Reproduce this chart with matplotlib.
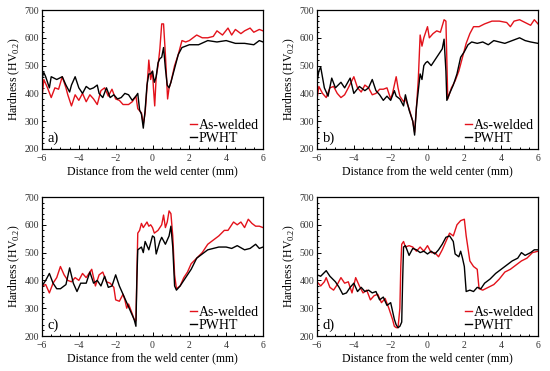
import matplotlib
matplotlib.use('Agg')
import matplotlib.pyplot as plt
from matplotlib.ticker import MultipleLocator

plt.rcParams['font.family'] = 'Liberation Serif'
plt.rcParams['mathtext.fontset'] = 'custom'
plt.rcParams['mathtext.rm'] = 'Liberation Serif'

# panel a)
a_aw_x = [-6, -5.9, -5.7, -5.5, -5.3, -5.1, -4.9, -4.7, -4.6, -4.4, -4.2, -4.0, -3.8, -3.6, -3.4, -3.2,
          -3.0, -2.8, -2.6, -2.4, -2.2, -2.0, -1.8, -1.6, -1.3, -1.1, -0.9, -0.8, -0.6, -0.5, -0.4, -0.3,
          -0.2, -0.1, 0.0, 0.05, 0.12, 0.2, 0.3, 0.4, 0.5, 0.6, 0.7, 0.82, 0.9, 1.0, 1.2, 1.4, 1.6,
          1.8, 2.0, 2.2, 2.4, 2.7, 3.0, 3.3, 3.5, 3.8, 4.1, 4.3, 4.5, 4.8, 5.0, 5.3, 5.5, 5.8, 6.0]
a_aw_y = [385, 450, 420, 385, 420, 415, 460, 420, 395, 355, 395, 375, 400, 370, 395, 380,
          360, 410, 420, 390, 415, 380, 375, 360, 360, 370, 390, 345, 330, 290, 330, 420,
          520, 450, 480, 420, 355, 460, 500, 560, 650, 650, 540, 380, 420, 440, 500, 540, 590,
          585, 590, 600, 610, 600, 600, 605, 625, 610, 635, 610, 630, 615, 625, 635, 620, 630, 625]
a_ph_x = [-6, -5.9, -5.8, -5.6, -5.5, -5.2, -4.9, -4.7, -4.5, -4.4, -4.2, -4.0, -3.8, -3.6, -3.4, -3.2,
          -3.0, -2.9, -2.7, -2.5, -2.3, -2.1, -1.9, -1.7, -1.5, -1.3, -1.1, -0.9, -0.8, -0.7, -0.6, -0.5,
          -0.4, -0.3, -0.2, -0.1, 0.0, 0.1, 0.2, 0.3, 0.4, 0.5, 0.6, 0.7, 0.8, 0.9, 1.0, 1.2, 1.4, 1.6,
          1.8, 2.0, 2.5, 3.0, 3.5, 4.0, 4.5, 5.0, 5.5, 5.8, 6.0]
a_ph_y = [455, 475, 460, 420, 460, 450, 460, 430, 405, 430, 460, 420, 400, 425, 415, 420,
          430, 400, 385, 420, 385, 395, 380, 385, 400, 395, 375, 390, 400, 340, 325, 275,
          340, 430, 470, 470, 480, 440, 460, 510, 525, 530, 565, 490, 430, 420, 440, 490, 540, 565,
          570, 575, 575, 590, 585, 590, 580, 580, 575, 590, 585]

# panel b)
b_aw_x = [-6, -5.9, -5.7, -5.5, -5.3, -5.1, -4.9, -4.7, -4.5, -4.3, -4.0, -3.8, -3.6, -3.4, -3.2, -3.0,
          -2.8, -2.6, -2.4, -2.2, -2.0, -1.9, -1.7, -1.6, -1.5, -1.3, -1.2, -1.0, -0.8, -0.7, -0.6, -0.5,
          -0.4, -0.3, -0.2, 0.0, 0.1, 0.3, 0.5, 0.7, 0.9, 1.0, 1.05, 1.1, 1.3, 1.5, 1.7, 1.9, 2.1, 2.3,
          2.5, 2.8, 3.1, 3.5, 3.9, 4.3, 4.5, 4.7, 5.0, 5.3, 5.6, 5.8, 6.0]
b_aw_y = [380, 425, 400, 385, 420, 425, 400, 385, 395, 420, 460, 420, 405, 430, 420, 395,
          400, 415, 415, 420, 380, 400, 460, 420, 390, 370, 380, 345, 300, 260, 350, 450,
          610, 570, 600, 640, 600, 615, 625, 620, 665, 660, 520, 380, 420, 445, 480, 530, 580, 615,
          640, 640, 650, 660, 660, 655, 640, 660, 665, 655, 645, 665, 650]
b_ph_x = [-6, -5.9, -5.8, -5.6, -5.4, -5.2, -5.0, -4.7, -4.5, -4.2, -4.0, -3.7, -3.4, -3.2, -3.0, -2.8,
          -2.6, -2.4, -2.2, -2.0, -1.8, -1.7, -1.5, -1.3, -1.2, -1.0, -0.8, -0.7, -0.6, -0.4, -0.3, -0.2,
          -0.1, 0.0, 0.2, 0.4, 0.6, 0.8, 0.9, 1.0, 1.05, 1.2, 1.4, 1.6, 1.8, 2.0, 2.2, 2.4, 2.7, 3.0,
          3.3, 3.6, 3.9, 4.2, 4.6, 5.0, 5.3, 5.6, 6.0]
b_ph_y = [440, 480, 495, 420, 390, 455, 420, 440, 420, 455, 400, 425, 410, 420, 450, 410,
          395, 375, 390, 375, 410, 390, 380, 355, 395, 340, 300, 250, 350, 470, 450, 500,
          510, 515, 500, 520, 540, 560, 595, 480, 375, 400, 430, 470, 530, 550, 575, 585, 580, 585,
          575, 590, 585, 580, 590, 600, 590, 585, 580]

# panel c)
c_aw_x = [-6, -5.8, -5.6, -5.4, -5.2, -5.0, -4.8, -4.6, -4.4, -4.2, -4.0, -3.8, -3.6, -3.3, -3.1, -2.9,
          -2.7, -2.5, -2.3, -2.1, -2.0, -1.8, -1.6, -1.5, -1.4, -1.3, -1.1, -1.0, -0.9, -0.8, -0.7, -0.6,
          -0.5, -0.4, -0.3, -0.2, -0.1, 0.0, 0.1, 0.3, 0.5, 0.6, 0.7, 0.8, 0.9, 1.0, 1.1, 1.2, 1.3,
          1.5, 1.7, 1.9, 2.1, 2.4, 2.7, 3.0, 3.3, 3.6, 3.9, 4.1, 4.4, 4.6, 4.8, 5.0, 5.2, 5.4, 5.6,
          5.8, 6.0]
c_aw_y = [380, 385, 355, 390, 410, 450, 420, 400, 395, 410, 400, 425, 410, 440, 380, 420,
          430, 395, 390, 375, 330, 325, 350, 330, 300, 315, 280, 260, 255, 570, 580, 605,
          590, 600, 610, 595, 600, 590, 570, 580, 600, 635, 590, 610, 650, 640, 560, 420, 370,
          380, 410, 430, 460, 480, 500, 530, 545, 560, 580, 580, 610, 600, 610, 590, 620, 605, 595,
          595, 590]
c_ph_x = [-6, -5.8, -5.6, -5.4, -5.2, -5.0, -4.7, -4.5, -4.3, -4.1, -3.9, -3.6, -3.4, -3.2, -3.0, -2.8,
          -2.6, -2.4, -2.2, -2.0, -1.8, -1.6, -1.4, -1.2, -1.0, -0.9, -0.85, -0.8, -0.6, -0.5, -0.4, -0.3,
          -0.2, 0.0, 0.1, 0.2, 0.4, 0.5, 0.7, 0.9, 1.0, 1.1, 1.2, 1.3, 1.5, 1.7, 1.9, 2.1, 2.4, 2.7,
          3.0, 3.3, 3.6, 4.0, 4.3, 4.6, 5.0, 5.3, 5.6, 5.8, 6.0]
c_ph_y = [380, 400, 425, 390, 370, 370, 385, 445, 390, 360, 390, 390, 430, 390, 400, 380,
          415, 375, 380, 420, 380, 350, 320, 290, 260, 235, 400, 510, 520, 500, 540, 525,
          510, 560, 555, 495, 540, 555, 530, 560, 595, 520, 380, 365, 380, 400, 420, 440, 480, 495,
          510, 515, 520, 520, 515, 525, 510, 515, 530, 515, 520]

# panel d)
d_aw_x = [-6, -5.8, -5.6, -5.5, -5.3, -5.1, -4.9, -4.7, -4.5, -4.3, -4.1, -3.9, -3.7, -3.5, -3.3, -3.1,
          -2.9, -2.7, -2.5, -2.3, -2.1, -1.9, -1.8, -1.7, -1.6, -1.5, -1.45, -1.4, -1.3, -1.2, -1.0, -0.8,
          -0.6, -0.4, -0.2, 0.0, 0.2, 0.4, 0.6, 0.8, 1.0, 1.2, 1.4, 1.6, 1.8, 2.0, 2.1, 2.3, 2.5,
          2.7, 2.8, 3.0, 3.3, 3.6, 3.9, 4.2, 4.5, 4.8, 5.1, 5.4, 5.7, 6.0]
d_aw_y = [395, 380, 395, 410, 375, 365, 385, 410, 390, 395, 355, 410, 380, 355, 365, 330,
          345, 350, 320, 335, 300, 260, 235, 230, 230, 300, 450, 530, 540, 520, 525, 520,
          505, 520, 505, 525, 500, 500, 485, 510, 540, 570, 560, 600, 615, 620, 560, 470, 450,
          440, 370, 365, 375, 385, 405, 430, 440, 455, 470, 480, 500, 505]
d_ph_x = [-6, -5.8, -5.5, -5.3, -5.0, -4.8, -4.6, -4.4, -4.2, -4.0, -3.8, -3.6, -3.4, -3.2, -3.0, -2.8,
          -2.6, -2.4, -2.2, -2.0, -1.9, -1.8, -1.7, -1.6, -1.5, -1.4, -1.35, -1.3, -1.2, -1.0, -0.8, -0.6,
          -0.4, -0.2, 0.0, 0.2, 0.4, 0.6, 0.8, 1.0, 1.2, 1.4, 1.5, 1.7, 1.8, 1.9, 2.0, 2.1, 2.3,
          2.5, 2.7, 2.9, 3.1, 3.4, 3.7, 4.0, 4.3, 4.6, 4.9, 5.1, 5.3, 5.6, 5.8, 6.0]
d_ph_y = [420, 415, 435, 415, 395, 375, 350, 355, 375, 390, 360, 375, 360, 365, 355, 360,
          330, 340, 310, 320, 290, 260, 240, 230, 235, 250, 400, 520, 525, 490, 515, 510,
          500, 505, 495, 505, 495, 510, 530, 555, 560, 540, 495, 485, 505, 480, 450, 360, 365,
          360, 375, 370, 390, 405, 425, 440, 455, 470, 480, 500, 490, 500, 510, 510]

panels = [
    ('a)', a_aw_x, a_aw_y, a_ph_x, a_ph_y),
    ('b)', b_aw_x, b_aw_y, b_ph_x, b_ph_y),
    ('c)', c_aw_x, c_aw_y, c_ph_x, c_ph_y),
    ('d)', d_aw_x, d_aw_y, d_ph_x, d_ph_y),
]

fig = plt.figure(figsize=(5.5, 3.71), dpi=100)
W, H = 550, 371
boxes = [(42, 10), (317, 10), (42, 197), (317, 197)]  # left, top in pixels
aw, ah = 221, 139

for (lab, ax_, ay_, px_, py_), (l, t) in zip(panels, boxes):
    ax = fig.add_axes([l / W, 1 - (t + ah) / H, aw / W, ah / H])
    ax.plot(ax_, ay_, color='#e3121b', lw=1.0, label='As-welded')
    ax.plot(px_, py_, color='black', lw=1.0, label='PWHT')
    ax.set_xlim(-6, 6)
    ax.set_ylim(200, 700)
    ax.xaxis.set_major_locator(MultipleLocator(2))
    ax.xaxis.set_minor_locator(MultipleLocator(0.5))
    ax.yaxis.set_major_locator(MultipleLocator(100))
    ax.yaxis.set_minor_locator(MultipleLocator(20))
    ax.tick_params(which='both', direction='in', labelsize=7, width=0.7, labelcolor='#333333')
    ax.tick_params(axis='x', pad=3.5)
    ax.tick_params(axis='y', pad=2)
    ax.tick_params(which='major', length=3)
    ax.tick_params(which='minor', length=1.5)
    for s in ax.spines.values():
        s.set_linewidth(0.9)
    ax.set_xlabel('Distance from the weld center (mm)', fontsize=8.5, labelpad=2)
    ax.set_ylabel(r'Hardness (HV$_{\mathrm{0.2}}$)', fontsize=8.5, labelpad=2)
    ax.text(0.025, 0.03, lab, transform=ax.transAxes, fontsize=10.5, ha='left', va='bottom')
    ax.legend(loc='lower right', frameon=False, fontsize=10, handlelength=0.5,
              handletextpad=0.15, labelspacing=0.0, borderaxespad=0.2, borderpad=0.1)

fig.savefig('out.png', dpi=100)
